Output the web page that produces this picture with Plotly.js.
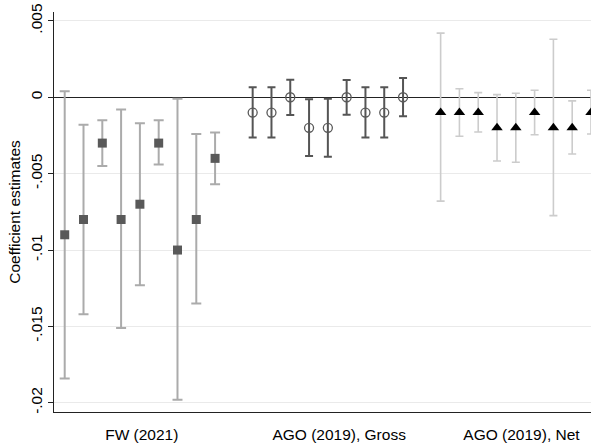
<!DOCTYPE html>
<html>
<head>
<meta charset="utf-8">
<script src="https://cdn.plot.ly/plotly-3.0.1.min.js"></script>
<style>html,body{margin:0;padding:0;background:#fff;}#chart{width:591px;height:445px;}</style>
</head>
<body>
<div id="chart"></div>
<script>
// ---- data ----
var xFW    = [1, 2, 3, 4, 5, 6, 7, 8, 9];
var coefFW = [-0.009, -0.008, -0.003, -0.008, -0.007, -0.003, -0.010, -0.008, -0.004];
var hiFW   = [0.0004, -0.0018, -0.0015, -0.0008, -0.0017, -0.0015, -0.0001, -0.0024, -0.0023];
var loFW   = [-0.0184, -0.0142, -0.0045, -0.0151, -0.0123, -0.0044, -0.0198, -0.0135, -0.0057];

var xGross    = [11, 12, 13, 14, 15, 16, 17, 18, 19];
var coefGross = [-0.001, -0.001, 0, -0.002, -0.002, 0, -0.001, -0.001, 0];
var hiGross   = [0.00065, 0.00065, 0.00115, -0.00013, -0.00009, 0.00113, 0.00065, 0.00065, 0.00126];
var loGross   = [-0.00264, -0.00264, -0.00116, -0.00384, -0.00389, -0.00114, -0.00264, -0.00264, -0.00124];

var xNet    = [21, 22, 23, 24, 25, 26, 27, 28, 29];
var coefNet = [-0.001, -0.001, -0.001, -0.002, -0.002, -0.001, -0.002, -0.002, -0.001];
var hiNet   = [0.0042, 0.00056, 0.0003, 0.00017, 0.00026, 0.00046, 0.0038, -0.00024, 0.00046];
var loNet   = [-0.0068, -0.00255, -0.00227, -0.00417, -0.00425, -0.00245, -0.00775, -0.00371, -0.0024];

var groupTickVals = [5.1, 15.6, 25.3];
var groupLabels   = ['FW (2021)', 'AGO (2019), Gross', 'AGO (2019), Net'];
var yTickVals = [0.005, 0, -0.005, -0.01, -0.015, -0.02];
var yTickText = ['.005', '0', '-.005', '-.01', '-.015', '-.02'];

function plus(c, h) { return h.map(function (v, i) { return v - c[i]; }); }
function minus(c, l) { return l.map(function (v, i) { return c[i] - v; }); }

var traces = [
  {
    x: xFW, y: coefFW, type: 'scatter', mode: 'markers', cliponaxis: true,
    marker: {symbol: 'square', size: 9, color: '#595959'},
    error_y: {type: 'data', symmetric: false, array: plus(coefFW, hiFW), arrayminus: minus(coefFW, loFW),
              color: '#ababab', thickness: 2, width: 5}
  },
  {
    x: xGross, y: coefGross, type: 'scatter', mode: 'markers', cliponaxis: true,
    marker: {symbol: 'circle-open', size: 9, color: '#595959', line: {width: 1.3, color: '#595959'}},
    error_y: {type: 'data', symmetric: false, array: plus(coefGross, hiGross), arrayminus: minus(coefGross, loGross),
              color: '#555555', thickness: 2, width: 4}
  },
  {
    x: xNet, y: coefNet, type: 'scatter', mode: 'markers', cliponaxis: true,
    marker: {symbol: 'triangle-up', size: 10, color: '#000000'},
    error_y: {type: 'data', symmetric: false, array: plus(coefNet, hiNet), arrayminus: minus(coefNet, loNet),
              color: '#cccccc', thickness: 1.6, width: 4}
  }
];

var layout = {
  width: 591, height: 445,
  margin: {l: 54, r: 0, t: 12, b: 33, pad: 0},
  paper_bgcolor: '#ffffff', plot_bgcolor: '#ffffff',
  showlegend: false,
  font: {family: 'Liberation Sans, Arial, sans-serif', size: 15.5, color: '#000'},
  xaxis: {
    range: [0.43, 29.0], autorange: false,
    tickvals: groupTickVals, ticktext: groupLabels,
    ticks: 'outside', ticklen: 8, tickcolor: 'rgba(0,0,0,0)',
    showgrid: false, zeroline: false,
    showline: true, linecolor: '#222', linewidth: 1.3,
    tickfont: {size: 15.5}
  },
  yaxis: {
    range: [-0.0206, 0.00558], autorange: false,
    tickvals: yTickVals, ticktext: yTickText, tickangle: -90,
    ticks: 'outside', ticklen: 5, tickcolor: '#222', tickwidth: 1,
    showgrid: true, gridcolor: '#eaeaea', gridwidth: 1,
    zeroline: true, zerolinecolor: '#222', zerolinewidth: 1.3,
    showline: true, linecolor: '#222', linewidth: 1.3,
    tickfont: {size: 15.5},
    title: {text: 'Coefficient estimates', font: {size: 15.5}, standoff: 3}
  }
};

Plotly.newPlot('chart', traces, layout, {displayModeBar: false, staticPlot: true});
</script>
</body>
</html>
